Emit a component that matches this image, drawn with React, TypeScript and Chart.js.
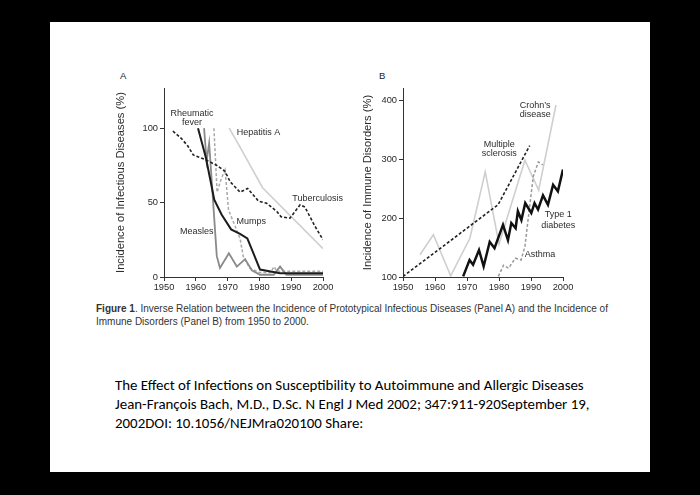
import React, { useEffect, useRef } from "react";
import { Chart, registerables } from "chart.js";

Chart.register(...registerables);

// ---------- axis ticks ----------
const yearTicks = [1950, 1960, 1970, 1980, 1990, 2000];
const infectiousTicks = [0, 50, 100];
const immuneTicks = [100, 200, 300, 400];

// ---------- Panel A: infectious diseases (%) ----------
const tuberculosisYears = [1952.8, 1955.5, 1957.5, 1959.2, 1962.9, 1966.6, 1969.2, 1970.8, 1973.9, 1976.3, 1979.7, 1982.3, 1985.5, 1986.8, 1989.6, 1992.8, 1994.3, 1997.5, 2000];
const tuberculosisValues = [98, 93, 88, 82, 79, 75, 71, 64, 57, 59.5, 51, 49.5, 44, 40.5, 39.5, 48.5, 47, 34, 25];

const hepatitisYears = [1970.5, 1974, 1981, 2000];
const hepatitisValues = [100, 87, 60, 19];

const rheumaticYears = [1960.7, 1963.2, 1964.5, 1965.8, 1968.1, 1971.1, 1973.9, 1976.2, 1978.1, 1980.2, 1986.5, 2000];
const rheumaticValues = [100, 80, 66, 52, 42, 32, 29, 26, 16, 5, 2.5, 2.5];

const measlesYears = [1962.6, 1963.4, 1964.2, 1966.6, 1967.6, 1970.4, 1972.9, 1975.5, 1977.6, 1980.2, 1984.5, 1986.5, 1988.5, 2000];
const measlesValues = [100, 78, 90, 14, 6, 16, 7, 12, 4.5, 1.5, 1.5, 7, 1.5, 1.5];

const mumpsYears = [1965.7, 1966.7, 1968, 1969.2, 1970.3, 1973.9, 1975, 1977, 1980, 1983.5, 1984.6, 1985.5, 2000];
const mumpsValues = [100, 57, 66, 72, 45, 26, 13, 6, 3, 3, 7, 3.8, 3.8];

const panelALabelText = ["Rheumatic", "fever", "Hepatitis A", "Tuberculosis", "Mumps", "Measles"];
const panelALabelYears = [1958.8, 1958.8, 1979.7, 1998.3, 1977.4, 1960.3];
const panelALabelValues = [110, 103.5, 97, 53, 37, 30.5];

// ---------- Panel B: immune disorders (%) ----------
const sclerosisYears = [1950, 1979.7, 1989.6];
const sclerosisValues = [101, 223, 324];

const crohnYears = [1955.3, 1959.5, 1964.9, 1970.9, 1975.7, 1980, 1988.1, 1992.4, 1997.8];
const crohnValues = [138, 172, 102, 166, 279, 156, 299, 248, 393];

const diabetesYears = [1968.8, 1970.8, 1971.9, 1973.75, 1975.2, 1977.1, 1978.6, 1981.25, 1982.8, 1983.85, 1985.2, 1985.9, 1987, 1988.2, 1990.1, 1991.1, 1992.2, 1993.75, 1995.3, 1996.9, 1998.4, 2000];
const diabetesValues = [101, 129, 121, 146, 118, 160, 149, 189, 163, 192, 183, 212, 197, 226, 209, 226, 215, 239, 223, 257, 246, 283];

const asthmaYears = [1979.8, 1981.4, 1983, 1985.1, 1986.9, 1988.1, 1989.2, 1990.7, 1992.3, 1993.7];
const asthmaValues = [101, 120, 115, 132, 129, 152, 203, 271, 296, 291];

const panelBLabelText = ["Crohn\u2019s", "disease", "Multiple", "sclerosis", "Type 1", "diabetes", "Asthma"];
const panelBLabelYears = [1991.3, 1991.3, 1980.1, 1980.1, 1998.5, 1998.5, 1992.8];
const panelBLabelValues = [393, 376, 325, 310, 206, 188, 138];

const FONT = '"Liberation Sans", Arial, Helvetica, sans-serif';

function pts(xs: number[], ys: number[]) {
  return xs.map((x, i) => ({ x, y: ys[i] }));
}

function line(label: string, xs: number[], ys: number[], color: string, width: number, dashed: boolean) {
  return {
    label,
    data: pts(xs, ys),
    borderColor: color,
    backgroundColor: color,
    borderWidth: width,
    borderDash: dashed ? [3, 2] : [],
    pointRadius: 0,
    tension: 0,
    fill: false,
  };
}

const labelPlugin = {
  id: "seriesLabels",
  afterDatasetsDraw(chart: any, _args: any, opts: any) {
    const { ctx } = chart;
    const xs = chart.scales.x;
    const ys = chart.scales.y;
    ctx.save();
    ctx.font = `9px ${FONT}`;
    ctx.fillStyle = "#2c2c2c";
    ctx.textAlign = "center";
    ctx.textBaseline = "middle";
    (opts.text || []).forEach((t: string, i: number) => {
      ctx.fillText(t, xs.getPixelForValue(opts.years[i]), ys.getPixelForValue(opts.values[i]));
    });
    ctx.restore();
  },
};

function makeConfig(p: any) {
  return {
    type: "line",
    data: { datasets: p.datasets },
    plugins: [labelPlugin],
    options: {
      animation: false,
      responsive: false,
      maintainAspectRatio: false,
      devicePixelRatio: 1,
      layout: { padding: { left: 0, right: p.padRight, top: 28, bottom: 0 } },
      plugins: {
        legend: { display: false },
        tooltip: { enabled: false },
        seriesLabels: p.labels,
      },
      scales: {
        x: {
          type: "linear",
          min: 1950,
          max: 2000,
          afterBuildTicks: (s: any) => {
            s.ticks = yearTicks.map((v) => ({ value: v }));
          },
          ticks: { color: "#2a2a2a", font: { family: FONT, size: 9.3 }, padding: 1, callback: (v: any) => String(v), maxRotation: 0 },
          grid: { drawOnChartArea: false, drawTicks: true, tickLength: 4, color: "#333" },
          border: { color: "#333", width: 1 },
          afterFit: (s: any) => {
            s.height = 23;
          },
        },
        y: {
          type: "linear",
          min: p.yMin,
          max: p.yMax,
          afterBuildTicks: (s: any) => {
            s.ticks = p.yTicks.map((v: number) => ({ value: v }));
          },
          ticks: { color: "#2a2a2a", font: { family: FONT, size: 9.3 }, padding: 2 },
          grid: { drawOnChartArea: false, drawTicks: true, tickLength: 4, color: "#333" },
          border: { color: "#333", width: 1 },
          title: {
            display: true,
            text: p.yTitle,
            color: "#2a2a2a",
            font: { family: FONT, size: 11.2 },
            padding: { top: p.titlePad, bottom: 0 },
          },
          afterFit: (s: any) => {
            s.width = p.yWidth;
          },
        },
      },
    },
  };
}

function ChartCanvas({ left, top, width, height, build }: any) {
  const ref = useRef<HTMLCanvasElement>(null);
  useEffect(() => {
    const chart = new Chart(ref.current as HTMLCanvasElement, build() as any);
    return () => chart.destroy();
  }, []);
  return (
    <canvas
      ref={ref}
      width={width}
      height={height}
      style={{ position: "absolute", left, top, width, height }}
    />
  );
}

const buildA = () =>
  makeConfig({
    datasets: [
      line("Rheumatic fever", rheumaticYears, rheumaticValues, "#1c1c1c", 2, false),
      line("Tuberculosis", tuberculosisYears, tuberculosisValues, "#222", 1.6, true),
      line("Measles", measlesYears, measlesValues, "#8a8a8a", 1.8, false),
      line("Mumps", mumpsYears, mumpsValues, "#a8a8a8", 1.5, true),
      line("Hepatitis A", hepatitisYears, hepatitisValues, "#cfcfcf", 1.6, false),
    ],
    labels: { text: panelALabelText, years: panelALabelYears, values: panelALabelValues },
    yMin: 0,
    yMax: 127,
    yTicks: infectiousTicks,
    yTitle: "Incidence of Infectious Diseases (%)",
    titlePad: 4,
    yWidth: 54,
    padRight: 27,
  });

const buildB = () =>
  makeConfig({
    datasets: [
      line("Type 1 diabetes", diabetesYears, diabetesValues, "#111", 2.5, false),
      line("Multiple sclerosis", sclerosisYears, sclerosisValues, "#222", 1.6, true),
      line("Asthma", asthmaYears, asthmaValues, "#9a9a9a", 1.5, true),
      line("Crohn's disease", crohnYears, crohnValues, "#cfcfcf", 1.6, false),
    ],
    labels: { text: panelBLabelText, years: panelBLabelYears, values: panelBLabelValues },
    yMin: 100,
    yMax: 422,
    yTicks: immuneTicks,
    yTitle: "Incidence of Immune Disorders (%)",
    titlePad: 11,
    yWidth: 53,
    padRight: 27,
  });

export default function App() {
  return (
    <div style={{ position: "fixed", left: 0, top: 0, width: 700, height: 495, background: "#000", overflow: "hidden" }}>
      <div style={{ position: "absolute", left: 50, top: 22, width: 600, height: 450, background: "#fff" }} />
      <div style={{ position: "absolute", left: 120, top: 70, fontFamily: FONT, fontSize: 9.5, color: "#222", lineHeight: "11px" }}>A</div>
      <div style={{ position: "absolute", left: 379, top: 70, fontFamily: FONT, fontSize: 9.5, color: "#222", lineHeight: "11px" }}>B</div>
      <ChartCanvas left={110} top={60} width={240} height={240} build={buildA} />
      <ChartCanvas left={350} top={60} width={240} height={240} build={buildB} />
      <div
        style={{
          position: "absolute",
          left: 96,
          top: 303,
          fontFamily: FONT,
          fontSize: 10,
          lineHeight: "12.5px",
          color: "#333",
          whiteSpace: "nowrap",
        }}
      >
        <div>
          <b>Figure 1</b>. Inverse Relation between the Incidence of Prototypical Infectious Diseases (Panel A) and the Incidence of
        </div>
        <div>Immune Disorders (Panel B) from 1950 to 2000.</div>
      </div>
      <div
        style={{
          position: "absolute",
          left: 115,
          top: 375.5,
          fontFamily: "Carlito, Lato, sans-serif",
          fontSize: 14.9,
          lineHeight: "19px",
          color: "#000",
          whiteSpace: "nowrap",
        }}
      >
        <div>The Effect of Infections on Susceptibility to Autoimmune and Allergic Diseases</div>
        <div>Jean-François Bach, M.D., D.Sc. N Engl J Med 2002; 347:911-920September 19,</div>
        <div>2002DOI: 10.1056/NEJMra020100 Share:</div>
      </div>
    </div>
  );
}
